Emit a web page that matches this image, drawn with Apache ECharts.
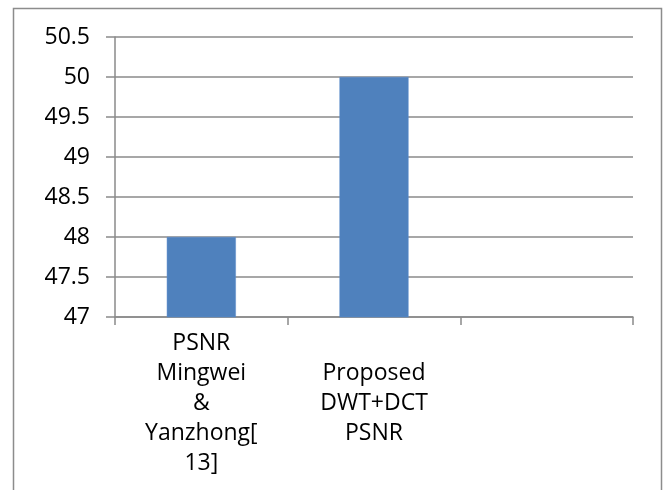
<!DOCTYPE html>
<html>
<head>
<meta charset="utf-8">
<script src="https://cdn.jsdelivr.net/npm/echarts@6/dist/echarts.min.js"></script>
<style>
html,body{margin:0;padding:0;background:#fff;}
#chart{width:665px;height:490px;}
</style>
</head>
<body>
<div id="chart"></div>
<script>
// Data
const categories = ["PSNR\nMingwei\n&\nYanzhong[\n13]", "Proposed\nDWT+DCT\nPSNR", ""];
const psnrValues = [48, 50, null];
const yTicks = { min: 47, max: 50.5, interval: 0.5 };

const chart = echarts.init(document.getElementById('chart'), null, { renderer: 'canvas' });
const font = '"Open Sans", "Noto Sans", sans-serif';
const gridColor = '#8a8a8a';

chart.setOption({
  animation: false,
  backgroundColor: '#ffffff',
  textStyle: { fontFamily: font },
  graphic: [{
    type: 'rect',
    shape: { x: 13.5, y: 8.5, width: 648, height: 520 },
    style: { fill: 'none', stroke: '#8c8c8c', lineWidth: 1.5 },
    z: 100
  }],
  grid: { left: 115, right: 32, top: 37, bottom: 173, containLabel: false },
  xAxis: {
    type: 'category',
    data: categories,
    boundaryGap: true,
    axisLine: { show: true, lineStyle: { color: gridColor, width: 1.5 } },
    axisTick: { show: true, alignWithLabel: false, length: 8, lineStyle: { color: gridColor, width: 1.5 } },
    axisLabel: {
      interval: 0,
      color: '#000',
      fontFamily: font,
      fontSize: 23,
      lineHeight: 30,
      verticalAlign: 'middle',
      margin: 86
    },
    splitLine: { show: false }
  },
  yAxis: {
    type: 'value',
    min: yTicks.min,
    max: yTicks.max,
    interval: yTicks.interval,
    axisLine: { show: true, lineStyle: { color: gridColor, width: 1.5 } },
    axisTick: { show: true, length: 9, lineStyle: { color: gridColor, width: 1.5 } },
    axisLabel: {
      color: '#000',
      fontFamily: font,
      fontSize: 23,
      margin: 25
    },
    splitLine: { show: true, lineStyle: { color: gridColor, width: 1.5 } }
  },
  series: [{
    type: 'bar',
    data: psnrValues,
    barWidth: '40%',
    itemStyle: { color: '#4f81bd', borderColor: '#5a8ccc', borderWidth: 0.5 }
  }]
});
</script>
</body>
</html>
